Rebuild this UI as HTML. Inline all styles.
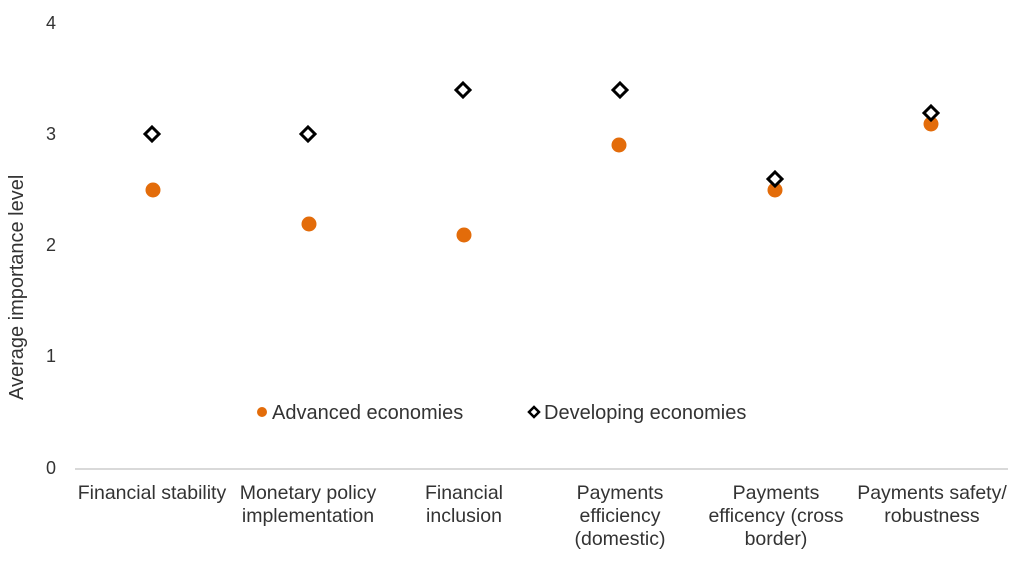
<!DOCTYPE html>
<html>
<head>
<meta charset="utf-8">
<style>
  html, body { margin: 0; padding: 0; background: #ffffff; }
  svg { display: block; }
  text { font-family: "Liberation Sans", Arial, sans-serif; fill: #333333; }
</style>
</head>
<body>
<svg width="1024" height="561" viewBox="0 0 1024 561" xmlns="http://www.w3.org/2000/svg">
  <rect width="1024" height="561" fill="#ffffff"/>

  <!-- Y tick labels -->
  <g font-size="18" text-anchor="middle">
    <text x="51" y="29">4</text>
    <text x="51" y="140">3</text>
    <text x="51" y="251">2</text>
    <text x="51" y="362">1</text>
    <text x="51" y="474">0</text>
  </g>

  <!-- Y axis title -->
  <text x="0" y="0" font-size="20" transform="translate(23,400) rotate(-90)">Average importance level</text>

  <!-- X axis line -->
  <line x1="75" y1="469" x2="1008" y2="469" stroke="#d9d9d9" stroke-width="2"/>

  <!-- Category labels -->
  <g font-size="19.5" text-anchor="middle">
    <text x="152" y="499">Financial stability</text>
    <text x="308" y="499">Monetary policy</text>
    <text x="308" y="522">implementation</text>
    <text x="464" y="499">Financial</text>
    <text x="464" y="522">inclusion</text>
    <text x="620" y="499">Payments</text>
    <text x="620" y="522">efficiency</text>
    <text x="620" y="545">(domestic)</text>
    <text x="776" y="499">Payments</text>
    <text x="776" y="522">efficency (cross</text>
    <text x="776" y="545">border)</text>
    <text x="932" y="499">Payments safety/</text>
    <text x="932" y="522">robustness</text>
  </g>

  <!-- Advanced economies (orange circles) -->
  <g fill="#e36c0a">
    <circle cx="153" cy="190" r="7.5"/>
    <circle cx="309" cy="224" r="7.5"/>
    <circle cx="464" cy="235" r="7.5"/>
    <circle cx="619" cy="145" r="7.5"/>
    <circle cx="775" cy="190" r="7.5"/>
    <circle cx="931" cy="124" r="7.5"/>
  </g>

  <!-- Developing economies (diamonds) -->
  <g fill="#ffffff" stroke="#000000" stroke-width="3">
    <polygon points="152,127 159,134 152,141 145,134"/>
    <polygon points="308,127 315,134 308,141 301,134"/>
    <polygon points="463,83 470,90 463,97 456,90"/>
    <polygon points="620,83 627,90 620,97 613,90"/>
    <polygon points="775,172 782,179 775,186 768,179"/>
    <polygon points="931,106 938,113 931,120 924,113"/>
  </g>

  <!-- Legend -->
  <circle cx="262" cy="412" r="5" fill="#e36c0a"/>
  <text x="272" y="419" font-size="20">Advanced economies</text>
  <polygon points="534,407 539,412 534,417 529,412" fill="#ffffff" stroke="#000000" stroke-width="2.5"/>
  <text x="544" y="419" font-size="20">Developing economies</text>
</svg>
</body>
</html>
